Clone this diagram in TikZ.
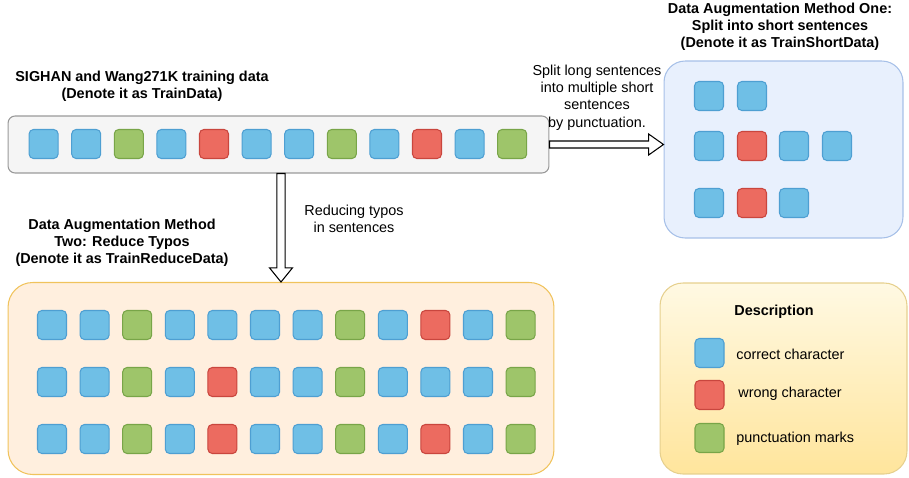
\documentclass[tikz,border=0pt]{standalone}
\usepackage{fontspec}
\setmainfont{Liberation Sans}
\usepackage{tikz}
\usetikzlibrary{calc}

\definecolor{okfill}{HTML}{6FBFE6}
\definecolor{okline}{HTML}{4E9FD2}
\definecolor{typofill}{HTML}{EC6B60}
\definecolor{typoline}{HTML}{C9463E}
\definecolor{puncfill}{HTML}{9EC56A}
\definecolor{puncline}{HTML}{78A548}
\definecolor{shortfill}{HTML}{E8F0FD}
\definecolor{shortline}{HTML}{A6C0E8}
\definecolor{reducefill}{HTML}{FFEFDE}
\definecolor{reduceline}{HTML}{F0C35C}
\definecolor{desctop}{HTML}{FFF9E3}
\definecolor{descbottom}{HTML}{FFE59C}
\definecolor{descline}{HTML}{E6D08E}

\begin{document}
\begin{tikzpicture}[x=0.02cm, y=-0.02cm, sq/.style={draw, rounded corners=2.5pt, minimum size=0.58cm, inner sep=0, line width=0.6pt}, ok/.style={sq, fill=okfill, draw=okline}, typo/.style={sq, fill=typofill, draw=typoline}, punc/.style={sq, fill=puncfill, draw=puncline}, box/.style={rectangle, draw, inner sep=0, line width=0.6pt}, title/.style={align=center, font=\fontsize{8.2}{9.8}\selectfont\bfseries}, txt/.style={align=center, font=\fontsize{8.2}{9.8}\selectfont}, blk/.style={draw, fill=white, line width=0.6pt, line join=miter}]
            \useasboundingbox (0,0) rectangle (909,477);
            % boxes
            \node[box, rounded corners=4pt, fill=black!4, draw=black!40, minimum width=10.82cm, minimum height=1.14cm] (train) at (278.5,144.5) {};
            \node[box, rounded corners=12pt, fill=shortfill, draw=shortline, minimum width=4.78cm, minimum height=3.54cm] (short) at (783.5,149.5) {};
            \node[box, rounded corners=14pt, fill=reducefill, draw=reduceline, minimum width=10.92cm, minimum height=3.84cm] (reduce) at (281,378.5) {};
            \node[box, rounded corners=13pt, top color=desctop, bottom color=descbottom, draw=descline, minimum width=4.94cm, minimum height=3.82cm] (desc) at (783.5,378.5) {};
            % titles
            \node[title] (traintitle) at (142,86.5) {SIGHAN and Wang271K training data\\(Denote it as TrainData)};
            \node[title] (shorttitle) at (780,27) {Data Augmentation Method One:\\Split into short sentences\\(Denote it as TrainShortData)};
            \node[title] (reducetitle) at (122,242.5) {Data Augmentation Method\\Two: Reduce Typos\\(Denote it as TrainReduceData)};
            \node[txt] (splittext) at (597,97.5) {Split long sentences\\into multiple short\\sentences\\by punctuation.};
            \node[txt] (typotext) at (354,219) {Reducing typos\\in sentences};
            % squares
            \foreach \c [count=\i] in {ok,ok,punc,ok,typo,ok,ok,punc,ok,typo,ok,punc}
                \node[\c] (t\i) at ({43.6+42.6*(\i-1)},144) {};
            \foreach \c/\x/\y [count=\i] in {ok/709/96, ok/752/96, ok/709/146, typo/752/146, ok/794/146, ok/837/146, ok/709/203, typo/752/203, ok/794/203}
                \node[\c] (s\i) at (\x,\y) {};
            \foreach \c [count=\i] in {ok,ok,punc,ok,ok,ok,ok,punc,ok,typo,ok,punc}
                \node[\c] (a\i) at ({52+42.6*(\i-1)},325) {};
            \foreach \c [count=\i] in {ok,ok,punc,ok,typo,ok,ok,punc,ok,ok,ok,punc}
                \node[\c] (b\i) at ({52+42.6*(\i-1)},382) {};
            \foreach \c [count=\i] in {ok,ok,punc,ok,typo,ok,ok,punc,ok,typo,ok,punc}
                \node[\c] (c\i) at ({52+42.6*(\i-1)},439) {};
            % legend
            \node[title] (desctitle) at (774,312) {Description};
            \node[ok] (lok) at (709.5,353) {};
            \node[typo] (ltypo) at (709.5,395) {};
            \node[punc] (lpunc) at (709.5,438) {};
            \node[txt, anchor=west, inner sep=0] at (736,354) {correct character};
            \node[txt, anchor=west, inner sep=0] at (738,394) {wrong character};
            \node[txt, anchor=west, inner sep=0] at (736,439) {punctuation marks};
            % edges
            \draw[blk] let \p1=(train.east), \p2=(short.west) in (\x1,{\y1+2pt}) -- ({\x2-8.5pt},{\y1+2pt}) -- ({\x2-8.5pt},{\y1+6pt}) -- (\x2,\y1) -- ({\x2-8.5pt},{\y1-6pt}) -- ({\x2-8.5pt},{\y1-2pt}) -- (\x1,{\y1-2pt}) -- cycle;
            \draw[blk] let \p1=(train.south), \p2=(reduce.north) in ({\x2-2.3pt},\y1) -- ({\x2-2.3pt},{\y2+8pt}) -- ({\x2-6.5pt},{\y2+8pt}) -- (\x2,\y2) -- ({\x2+6.5pt},{\y2+8pt}) -- ({\x2+2.3pt},{\y2+8pt}) -- ({\x2+2.3pt},\y1) -- cycle;
        \end{tikzpicture}
\end{document}
